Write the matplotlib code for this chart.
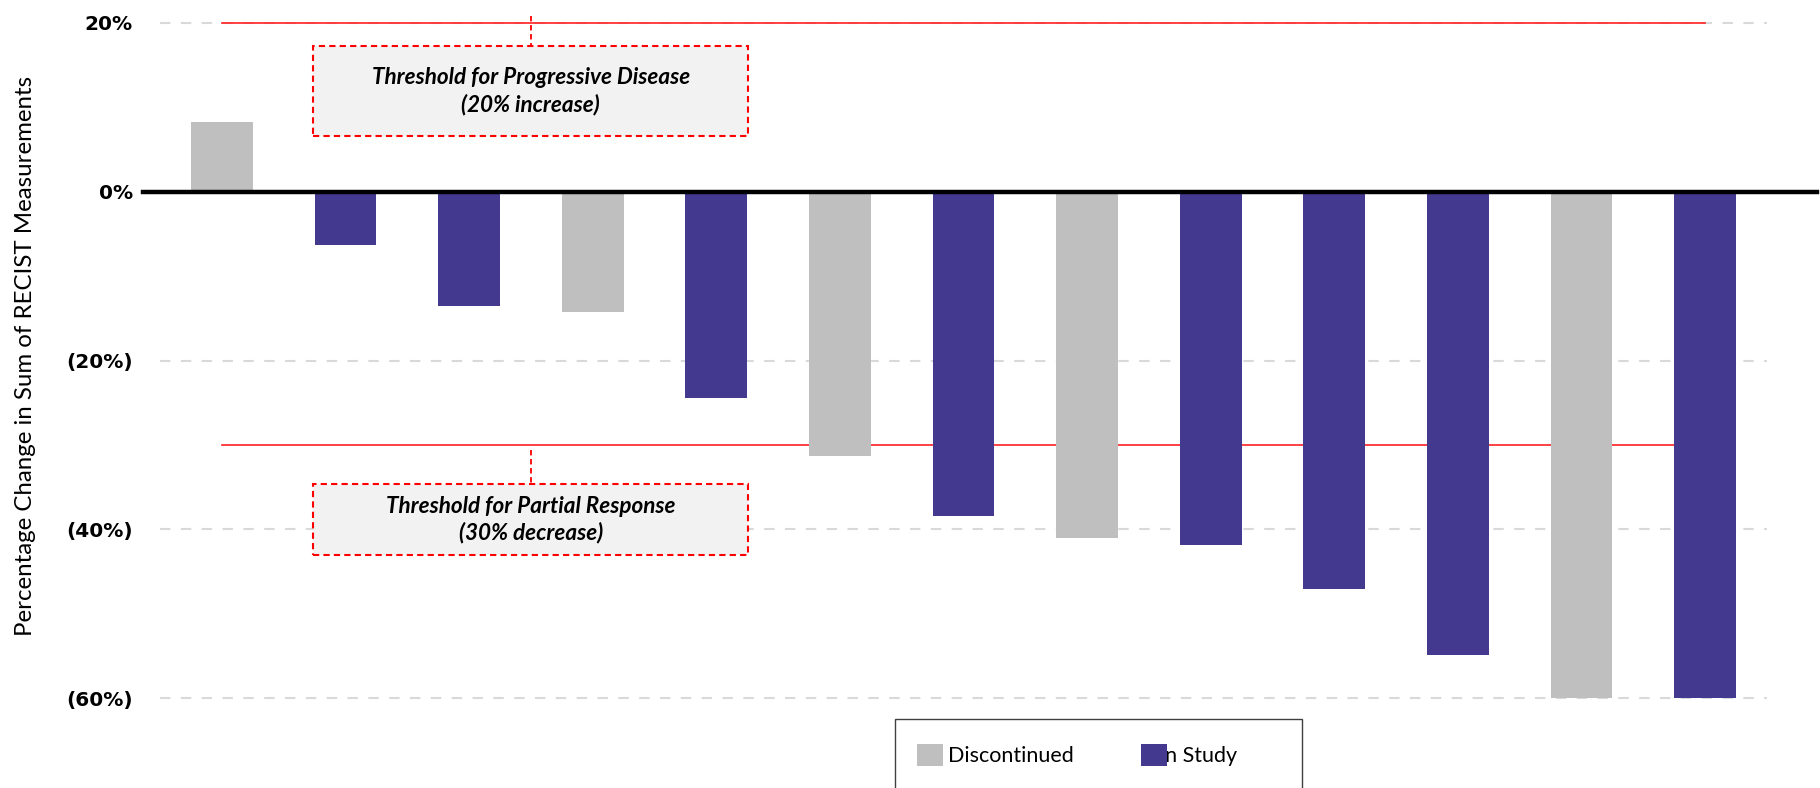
import matplotlib
matplotlib.use("Agg")
import matplotlib.pyplot as plt
from matplotlib.patches import Rectangle

# data
patients = list(range(13))
pct_change = [8.2, -6.3, -13.5, -14.2, -24.4, -31.3, -38.4, -41.0, -41.8, -47.1, -54.9, -60.0, -60.0]
status = ["Discontinued", "In Study", "In Study", "Discontinued", "In Study", "Discontinued",
          "In Study", "Discontinued", "In Study", "In Study", "In Study", "Discontinued", "In Study"]
yticks = [20, 0, -20, -40, -60]
ytick_labels = ["20%", "0%", "(20%)", "(40%)", "(60%)"]
pd_threshold = 20
pr_threshold = -30

colors = {"Discontinued": "#BFBFBF", "In Study": "#433A8F"}
W, H = 1820, 788
TXT = "Lato"

fig = plt.figure(figsize=(W / 100, H / 100), dpi=100)

def fx(px):
    return px / W

def fy(py):
    return 1 - py / H

ax = fig.add_axes([fx(160), fy(715), fx(1767) - fx(160), fy(6) - fy(715)])
ax.set_xlim(-0.5, 12.5)
ax.set_ylim(-62, 22)

ax.bar(patients, pct_change, width=0.5, color=[colors[s] for s in status], zorder=2)

# grid
for t in yticks:
    ax.axhline(t, color="#D9D9D9", lw=1.5, ls=(0, (5, 5)), zorder=0)

# zero line, runs past the plot area
ax.axhline(0, xmin=-0.0106, xmax=1.031, color="black", lw=3.2, zorder=3, clip_on=False)

# threshold lines
ax.plot([patients[0], patients[-1]], [pd_threshold, pd_threshold], color="#FF2020", lw=1.2, zorder=1)
ax.plot([patients[0], patients[-1]], [pr_threshold, pr_threshold], color="#FF2020", lw=1.2, zorder=1)

# annotation boxes
def note(y_top, y_bot, y_conn, text):
    ax.plot([2.5, 2.5], [y_conn, y_top], color="red", lw=1.3, ls=(0, (3, 2)), zorder=4, clip_on=False)
    ax.add_patch(Rectangle((0.74, y_bot), 3.52, y_top - y_bot, facecolor="#F2F2F2",
                           edgecolor="red", lw=1.5, ls=(0, (3, 2)), zorder=4))
    ax.text(2.5, (y_top + y_bot) / 2, text, ha="center", va="center", fontsize=16.2,
            fontweight="bold", fontstyle="italic", family=TXT, linespacing=1.3, zorder=5)

note(17.3, 6.55, 20.8, "Threshold for Progressive Disease\n(20% increase)")
note(-34.66, -43.04, -30.65, "Threshold for Partial Response\n(30% decrease)")

ax.set_yticks(yticks)
ax.set_yticklabels(ytick_labels, fontsize=14.5, fontweight="bold", family="DejaVu Sans")
ax.tick_params(axis="y", length=0, pad=19.5)
ax.set_xticks([])
for s in ax.spines.values():
    s.set_visible(False)

fig.text(fx(26), fy(356), "Percentage Change in Sum of RECIST Measurements", rotation=90,
         ha="center", va="center", fontsize=17.3, family=TXT)

# legend drawn by hand (box runs off the bottom edge)
fig.add_artist(Rectangle((fx(895), fy(800)), fx(1302) - fx(895), fy(719) - fy(800),
                         transform=fig.transFigure, facecolor="white", edgecolor="#404040",
                         lw=1.0, zorder=4, clip_on=False))
fig.add_artist(Rectangle((fx(917), fy(766)), fx(26), fy(744) - fy(766),
                         transform=fig.transFigure, facecolor=colors["Discontinued"], lw=0, zorder=6))
fig.text(fx(948), fy(756), "Discontinued", ha="left", va="center", fontsize=15.5, family=TXT, zorder=5)
fig.text(fx(1159), fy(756), "In Study", ha="left", va="center", fontsize=15.5, family=TXT, zorder=5)
fig.add_artist(Rectangle((fx(1141), fy(766)), fx(26), fy(744) - fy(766),
                         transform=fig.transFigure, facecolor=colors["In Study"], lw=0, zorder=6))

fig.savefig("out.png", dpi=100)
